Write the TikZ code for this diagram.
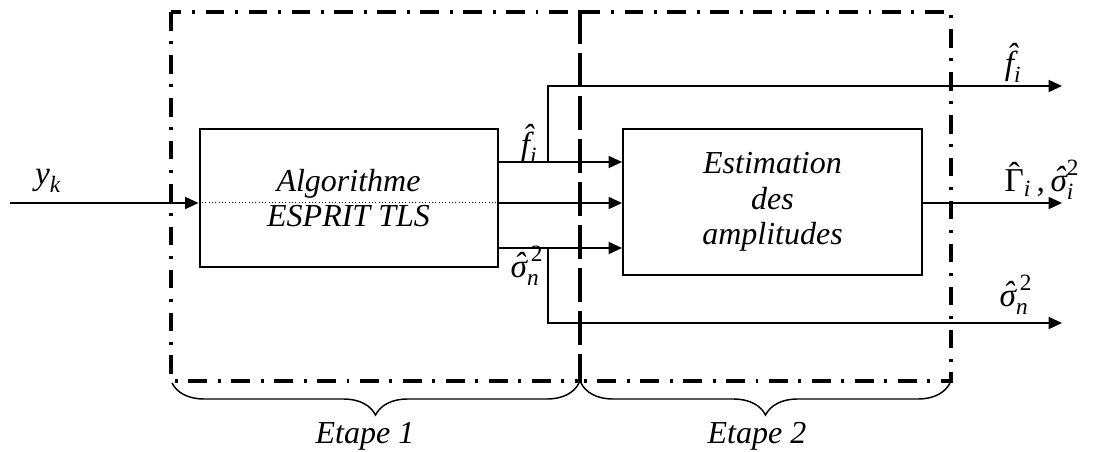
\documentclass[tikz,border=0pt]{standalone}
\usepackage{amsmath}
\usepackage{fontspec}
\setmainfont{Liberation Serif}
\usetikzlibrary{arrows.meta,decorations.pathreplacing}
\newcommand{\tvi}[1]{\text{\itshape #1}}
\newcommand{\tvu}[1]{\text{\upshape #1}}
\newcommand{\hf}{\tvi{\accent"02C6 f}}
\newcommand{\hs}{\tvi{\accent"02C6 σ}}
\newcommand{\hg}{\tvu{\accent"02C6 Γ}}
\tikzset{
  blk/.style={draw,line width=1.5pt,inner sep=0pt,align=center,font=\fontsize{24pt}{26.5pt}\selectfont\itshape},
  stage/.style={line width=3pt,dash pattern=on 14pt off 8pt on 2.2pt off 8pt},
  sig/.style={line width=1.1pt},
  arr/.style={sig,-{Triangle[length=10pt,width=9pt]}},
  lbl/.style={inner sep=0pt,font=\fontsize{25pt}{27pt}\selectfont},
  brc/.style={decorate,decoration={brace,mirror,amplitude=24pt},line width=1.1pt},
  etape/.style={inner sep=0pt,font=\fontsize{24pt}{26pt}\selectfont\itshape}
}
\begin{document}
\begin{tikzpicture}[x=0.75pt,y=-0.75pt]
\useasboundingbox (0,0) rectangle (1094,452);
% stage frames
\draw[stage] (171,12) rectangle (580,381);
\draw[stage] (580,12) rectangle (951,381);
% blocks
\node[blk,minimum width=223.5pt,minimum height=103.5pt] (esprit) at (348.5,198) {Algorithme\\ESPRIT TLS};
\node[blk,minimum width=224.25pt,minimum height=109.5pt] (est) at (772.5,202) {Estimation\\des\\amplitudes};
% input
\coordinate (in) at (10,203);
\draw[arr] (in) -- (in -| esprit.west);
\draw[line width=0.5pt,dotted] (esprit.west |- 0,202) -- (esprit.east |- 0,202);
\node[lbl] (yk) at (48,181) {$\tvi{y}_{\tvi{k}}$};
% connections between blocks
\coordinate (a1) at (498,162);
\coordinate (a2) at (498,203);
\coordinate (a3) at (498,248);
\draw[arr] (a1) -- (a1 -| est.west);
\draw[arr] (a2) -- (a2 -| est.west);
\draw[arr] (a3) -- (a3 -| est.west);
% branches
\coordinate (bf) at (548,162);
\coordinate (bs) at (548,248);
\coordinate (of) at (1062,86);
\coordinate (os) at (1062,323);
\coordinate (og) at (1062,203);
\draw[arr] (bf) |- (of);
\draw[arr] (bs) |- (os);
\draw[arr] (est.east |- og) -- (og);
% labels
\node[lbl] (fl) at (529,144) {$\hf_{\tvi{i}}$};
\node[lbl] (sl) at (527,266) {$\hs_{\tvi{n}}^{\,\tvu{2}}$};
\node[lbl] (fr) at (1013,63) {$\hf_{\tvi{i}}$};
\node[lbl] (gr) at (1042,180) {$\hg_{\tvi{i}}\,\tvu{,}\,\hs_{\tvi{i}}^{\tvu{2}}$};
\node[lbl] (sr) at (1016,295) {$\hs_{\tvi{n}}^{\,\tvu{2}}$};
% braces
\coordinate (b1a) at (172,383);
\coordinate (b1b) at (579,383);
\coordinate (b2a) at (581,383);
\coordinate (b2b) at (950,383);
\draw[brc] (b1a) -- (b1b);
\draw[brc] (b2a) -- (b2b);
\node[etape] (e1) at (365,436) {Etape 1};
\node[etape] (e2) at (757,436) {Etape 2};
\end{tikzpicture}
\end{document}
